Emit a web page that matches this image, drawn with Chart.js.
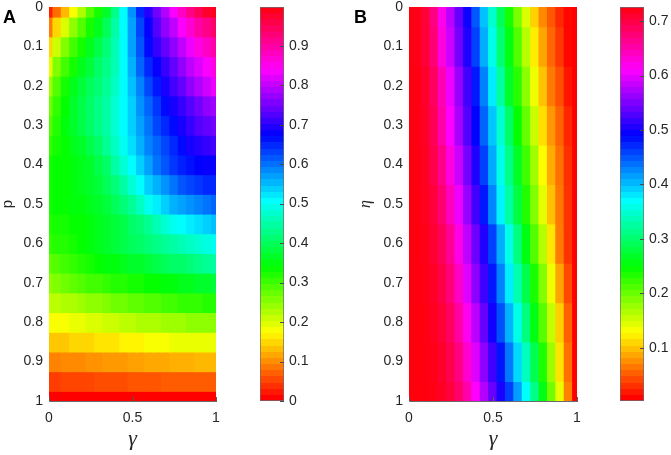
<!DOCTYPE html>
<html>
<head>
<meta charset="utf-8">
<script src="https://cdn.jsdelivr.net/npm/chart.js@4.4.1/dist/chart.umd.min.js"></script>
<style>
  html, body { margin: 0; padding: 0; background: #fff; }
  #wrap { position: relative; width: 671px; height: 455px; overflow: hidden; }
  .box { position: absolute; top: 0; height: 455px; }
  .tag { position: absolute; font: bold 18px "Liberation Sans", Arial, sans-serif; line-height: 18px; color: #000; }
</style>
</head>
<body>
<div id="wrap">
  <div class="box" style="left:0;width:230px"><canvas id="heatA" width="230" height="455"></canvas></div>
  <div class="box" style="left:240px;width:90px"><canvas id="barA" width="90" height="455"></canvas></div>
  <div class="box" style="left:350px;width:240px"><canvas id="heatB" width="240" height="455"></canvas></div>
  <div class="box" style="left:590px;width:81px"><canvas id="barB" width="81" height="455"></canvas></div>
  <div class="tag" style="left:3px;top:8px">A</div>
  <div class="tag" style="left:354px;top:8px">B</div>
</div>
<script>
// panel A: grid (columns = gamma, rows = p)
const gammaA = [0, 0.05, 0.1, 0.15, 0.2, 0.25, 0.3, 0.35, 0.4, 0.45, 0.5, 0.55, 0.6, 0.65, 0.7, 0.75, 0.8, 0.85, 0.9, 0.95, 1];
const pA = [0, 0.05, 0.1, 0.15, 0.2, 0.25, 0.3, 0.35, 0.4, 0.45, 0.5, 0.55, 0.6, 0.65, 0.7, 0.75, 0.8, 0.85, 0.9, 0.95, 1];
const zA = [
  [0.02, 0.07, 0.12, 0.17, 0.22, 0.28, 0.32, 0.36, 0.42, 0.50, 0.57, 0.64, 0.69, 0.74, 0.78, 0.83, 0.87, 0.91, 0.94, 0.97, 0.98],
  [0.08, 0.14, 0.19, 0.24, 0.28, 0.32, 0.35, 0.39, 0.44, 0.50, 0.56, 0.62, 0.67, 0.72, 0.76, 0.79, 0.83, 0.86, 0.89, 0.91, 0.93],
  [0.14, 0.20, 0.25, 0.29, 0.32, 0.35, 0.38, 0.41, 0.45, 0.50, 0.56, 0.61, 0.66, 0.70, 0.73, 0.76, 0.79, 0.82, 0.85, 0.87, 0.89],
  [0.18, 0.25, 0.29, 0.32, 0.35, 0.37, 0.40, 0.42, 0.45, 0.50, 0.55, 0.60, 0.64, 0.67, 0.70, 0.73, 0.76, 0.79, 0.81, 0.83, 0.85],
  [0.23, 0.28, 0.32, 0.35, 0.37, 0.39, 0.41, 0.43, 0.46, 0.50, 0.54, 0.58, 0.62, 0.65, 0.68, 0.71, 0.73, 0.76, 0.78, 0.80, 0.82],
  [0.26, 0.30, 0.33, 0.36, 0.38, 0.40, 0.42, 0.44, 0.47, 0.50, 0.53, 0.57, 0.60, 0.63, 0.66, 0.68, 0.70, 0.72, 0.74, 0.76, 0.77],
  [0.28, 0.31, 0.34, 0.36, 0.38, 0.40, 0.42, 0.44, 0.47, 0.50, 0.53, 0.56, 0.59, 0.62, 0.64, 0.66, 0.68, 0.70, 0.72, 0.73, 0.74],
  [0.30, 0.32, 0.33, 0.35, 0.36, 0.38, 0.40, 0.43, 0.46, 0.49, 0.52, 0.55, 0.58, 0.60, 0.62, 0.64, 0.66, 0.68, 0.69, 0.70, 0.71],
  [0.32, 0.33, 0.33, 0.34, 0.35, 0.36, 0.38, 0.40, 0.44, 0.47, 0.50, 0.53, 0.56, 0.59, 0.61, 0.63, 0.645, 0.655, 0.665, 0.67, 0.67],
  [0.32, 0.33, 0.33, 0.34, 0.35, 0.36, 0.37, 0.39, 0.41, 0.44, 0.47, 0.50, 0.53, 0.55, 0.57, 0.59, 0.61, 0.62, 0.63, 0.64, 0.64],
  [0.32, 0.33, 0.33, 0.34, 0.34, 0.35, 0.36, 0.37, 0.39, 0.41, 0.43, 0.46, 0.49, 0.51, 0.53, 0.55, 0.56, 0.57, 0.58, 0.59, 0.60],
  [0.31, 0.32, 0.32, 0.33, 0.33, 0.34, 0.35, 0.36, 0.37, 0.38, 0.40, 0.41, 0.43, 0.45, 0.47, 0.49, 0.50, 0.51, 0.52, 0.53, 0.54],
  [0.30, 0.31, 0.31, 0.32, 0.33, 0.34, 0.35, 0.36, 0.37, 0.38, 0.39, 0.40, 0.41, 0.42, 0.43, 0.44, 0.45, 0.46, 0.47, 0.48, 0.49],
  [0.27, 0.28, 0.29, 0.30, 0.31, 0.32, 0.33, 0.34, 0.34, 0.35, 0.36, 0.36, 0.37, 0.38, 0.39, 0.40, 0.40, 0.41, 0.42, 0.43, 0.44],
  [0.24, 0.25, 0.26, 0.27, 0.28, 0.29, 0.29, 0.30, 0.31, 0.31, 0.32, 0.32, 0.33, 0.33, 0.34, 0.34, 0.35, 0.35, 0.36, 0.36, 0.37],
  [0.21, 0.21, 0.22, 0.22, 0.23, 0.24, 0.24, 0.25, 0.26, 0.26, 0.27, 0.27, 0.28, 0.28, 0.29, 0.29, 0.30, 0.30, 0.30, 0.31, 0.31],
  [0.17, 0.17, 0.17, 0.18, 0.18, 0.19, 0.19, 0.20, 0.20, 0.21, 0.21, 0.22, 0.22, 0.22, 0.23, 0.23, 0.23, 0.24, 0.24, 0.24, 0.24],
  [0.13, 0.13, 0.13, 0.14, 0.14, 0.14, 0.15, 0.15, 0.15, 0.16, 0.16, 0.16, 0.17, 0.17, 0.17, 0.18, 0.18, 0.18, 0.18, 0.18, 0.18],
  [0.085, 0.085, 0.09, 0.09, 0.09, 0.095, 0.095, 0.10, 0.10, 0.10, 0.105, 0.105, 0.11, 0.11, 0.11, 0.115, 0.115, 0.115, 0.12, 0.12, 0.12],
  [0.04, 0.04, 0.045, 0.045, 0.045, 0.045, 0.05, 0.05, 0.05, 0.05, 0.055, 0.055, 0.055, 0.055, 0.06, 0.06, 0.06, 0.06, 0.06, 0.06, 0.06],
  [0, 0, 0, 0, 0, 0, 0, 0, 0, 0, 0, 0, 0, 0, 0, 0, 0, 0, 0, 0, 0]
];

// panel B: columns = gamma, rows = eta
const gammaB = [0, 0.05, 0.1, 0.15, 0.2, 0.25, 0.3, 0.35, 0.4, 0.45, 0.5, 0.55, 0.6, 0.65, 0.7, 0.75, 0.8, 0.85, 0.9, 0.95, 1];
const etaB = [0, 0.1, 0.2, 0.3, 0.4, 0.5, 0.6, 0.7, 0.8, 0.9, 1];
const zB = [
  [0.72, 0.715, 0.70, 0.665, 0.615, 0.573, 0.533, 0.492, 0.444, 0.393, 0.341, 0.286, 0.233, 0.186, 0.14, 0.101, 0.067, 0.044, 0.021, 0.005, 0],
  [0.72, 0.715, 0.70, 0.67, 0.62, 0.581, 0.54, 0.50, 0.454, 0.403, 0.353, 0.298, 0.252, 0.205, 0.158, 0.114, 0.08, 0.051, 0.028, 0.005, 0],
  [0.72, 0.717, 0.705, 0.68, 0.64, 0.597, 0.557, 0.516, 0.474, 0.423, 0.373, 0.318, 0.263, 0.224, 0.177, 0.13, 0.094, 0.06, 0.04, 0.012, 0],
  [0.72, 0.717, 0.707, 0.685, 0.645, 0.605, 0.565, 0.524, 0.484, 0.437, 0.391, 0.343, 0.292, 0.242, 0.196, 0.149, 0.107, 0.074, 0.049, 0.02, 0],
  [0.72, 0.718, 0.71, 0.69, 0.66, 0.62, 0.581, 0.541, 0.50, 0.454, 0.404, 0.354, 0.307, 0.261, 0.214, 0.168, 0.121, 0.083, 0.055, 0.025, 0],
  [0.72, 0.718, 0.712, 0.697, 0.672, 0.635, 0.597, 0.557, 0.516, 0.474, 0.421, 0.369, 0.321, 0.274, 0.228, 0.182, 0.135, 0.093, 0.058, 0.026, 0],
  [0.72, 0.719, 0.714, 0.703, 0.684, 0.655, 0.617, 0.575, 0.537, 0.50, 0.454, 0.403, 0.353, 0.303, 0.252, 0.205, 0.158, 0.111, 0.06, 0.026, 0],
  [0.72, 0.719, 0.716, 0.708, 0.692, 0.668, 0.632, 0.59, 0.552, 0.514, 0.474, 0.423, 0.373, 0.326, 0.28, 0.232, 0.182, 0.131, 0.08, 0.036, 0],
  [0.72, 0.72, 0.717, 0.711, 0.70, 0.68, 0.65, 0.612, 0.573, 0.533, 0.492, 0.447, 0.40, 0.353, 0.303, 0.252, 0.202, 0.151, 0.10, 0.048, 0],
  [0.72, 0.72, 0.718, 0.714, 0.705, 0.69, 0.665, 0.628, 0.59, 0.552, 0.514, 0.475, 0.428, 0.382, 0.333, 0.282, 0.23, 0.17, 0.11, 0.055, 0],
  [0.72, 0.72, 0.719, 0.716, 0.709, 0.697, 0.677, 0.645, 0.605, 0.57, 0.534, 0.498, 0.456, 0.41, 0.363, 0.308, 0.253, 0.19, 0.133, 0.063, 0]
];

// axes and colour limits
const xTicks = [0, 0.5, 1];
const yTicks = [0, 0.1, 0.2, 0.3, 0.4, 0.5, 0.6, 0.7, 0.8, 0.9, 1];
const cbTicksA = [0, 0.1, 0.2, 0.3, 0.4, 0.5, 0.6, 0.7, 0.8, 0.9];
const cbTicksB = [0.1, 0.2, 0.3, 0.4, 0.5, 0.6, 0.7];
const climA = [0, 0.998];
const climB = [0.002, 0.726];

const sans = '"Liberation Sans", Arial, sans-serif';
const serif = '"Liberation Serif", "Times New Roman", serif';
const ink = '#262626';
const tickFont = { family: sans, size: 14 };
const fmt = v => String(Math.round(v * 10) / 10);

// hsv colormap, red -> yellow -> green -> cyan -> blue -> magenta -> red
function hueColor(v, lim) {
  let t = (v - lim[0]) / (lim[1] - lim[0]);
  t = Math.min(Math.max(t, 0), 0.999);
  return 'hsl(' + (t * 360).toFixed(1) + ',100%,50%)';
}

function heatDatasets(cols, rows, z, lim) {
  return rows.map((r, i) => {
    const top = i === 0 ? r : (rows[i - 1] + r) / 2;
    const bot = i === rows.length - 1 ? r : (r + rows[i + 1]) / 2;
    return {
      data: cols.map(g => ({ x: g, y: [top, bot] })),
      backgroundColor: z[i].map(v => hueColor(v, lim)),
      borderWidth: 0,
      inflateAmount: 0.7,
      grouped: false,
      barPercentage: 1,
      categoryPercentage: 1,
      clip: 0
    };
  });
}

// small inward tick marks on the bottom edge
const bottomTicks = {
  id: 'bottomTicks',
  afterDraw(chart) {
    const { ctx, chartArea: a, scales } = chart;
    ctx.save();
    ctx.strokeStyle = '#5a5a5a';
    ctx.lineWidth = 1;
    ctx.beginPath();
    scales.x.ticks.forEach(t => {
      const x = Math.round(scales.x.getPixelForValue(t.value)) + 0.5;
      ctx.moveTo(x, a.bottom);
      ctx.lineTo(x, a.bottom - 4);
    });
    ctx.stroke();
    ctx.restore();
  }
};

// tick marks on the right side of a colorbar, pointing in
const barTicks = {
  id: 'barTicks',
  afterDraw(chart) {
    const { ctx, chartArea: a, scales } = chart;
    ctx.save();
    ctx.strokeStyle = '#4a4a4a';
    ctx.lineWidth = 1;
    ctx.beginPath();
    scales.y.ticks.forEach(t => {
      const y = Math.round(scales.y.getPixelForValue(t.value)) + 0.5;
      ctx.moveTo(a.right, y);
      ctx.lineTo(a.right - 4, y);
    });
    ctx.stroke();
    ctx.restore();
  }
};

function heatChart(id, cols, rows, z, lim, yTitle, yAxisW, titlePad, rightPad) {
  return new Chart(document.getElementById(id), {
    type: 'bar',
    data: { datasets: heatDatasets(cols, rows, z, lim) },
    options: {
      responsive: false,
      animation: false,
      events: [],
      layout: { padding: { top: 7, right: rightPad, bottom: 0, left: 0 } },
      plugins: { legend: { display: false }, tooltip: { enabled: false } },
      scales: {
        x: {
          type: 'linear', min: 0, max: 1, offset: false,
          grid: { display: false, drawTicks: false, offset: false },
          border: { display: true, color: '#6a6a6a', width: 1 },
          ticks: { font: tickFont, color: ink, padding: 9, maxRotation: 0, callback: fmt },
          afterBuildTicks: s => { s.ticks = xTicks.map(v => ({ value: v })); },
          afterFit: s => { s.height = 54; s.paddingLeft = 0; s.paddingRight = 0; },
          title: { display: true, text: 'γ', color: ink, font: { family: serif, size: 22, style: 'italic', lineHeight: 1 }, padding: { top: 0, bottom: 5 } }
        },
        y: {
          type: 'linear', min: 0, max: 1, reverse: true,
          grid: { display: false, drawTicks: false },
          border: { display: true, color: '#9a9a9a', width: 1 },
          ticks: { font: tickFont, color: ink, padding: 6, callback: fmt },
          afterBuildTicks: s => { s.ticks = yTicks.map(v => ({ value: v })); },
          afterFit: s => { s.width = yAxisW; s.paddingTop = 0; s.paddingBottom = 0; },
          title: { display: true, text: yTitle.text, color: ink, font: yTitle.font, padding: { top: titlePad, bottom: 0 } }
        }
      }
    },
    plugins: [bottomTicks]
  });
}

function barChart(id, lim, ticks, leftPad, axisW) {
  return new Chart(document.getElementById(id), {
    type: 'bar',
    data: {
      labels: [''],
      datasets: [{
        data: [[lim[0], lim[1]]],
        backgroundColor: ctx => {
          const ch = ctx.chart;
          if (!ch.chartArea) return '#f00';
          const ys = ch.scales.y;
          const g = ch.ctx.createLinearGradient(0, ys.getPixelForValue(lim[0]), 0, ys.getPixelForValue(lim[1]));
          const n = 64;
          for (let k = 0; k < n; k++) {
            const c = 'hsl(' + (k / n * 360).toFixed(1) + ',100%,50%)';
            g.addColorStop(k / n, c);
            g.addColorStop((k + 1) / n, c);
          }
          return g;
        },
        borderColor: '#6e6e6e',
        borderWidth: 1,
        borderSkipped: false,
        barPercentage: 1,
        categoryPercentage: 1
      }]
    },
    options: {
      responsive: false,
      animation: false,
      events: [],
      layout: { padding: { top: 7, right: 0, bottom: 54, left: leftPad } },
      plugins: { legend: { display: false }, tooltip: { enabled: false } },
      scales: {
        x: { display: false },
        y: {
          position: 'right', min: lim[0], max: lim[1],
          grid: { display: false, drawTicks: false },
          border: { display: false },
          ticks: { font: tickFont, color: ink, padding: 5, callback: fmt },
          afterBuildTicks: s => { s.ticks = ticks.map(v => ({ value: v })); },
          afterFit: s => { s.width = axisW; s.paddingTop = 0; s.paddingBottom = 0; }
        }
      }
    },
    plugins: [barTicks]
  });
}

heatChart('heatA', gammaA, pA, zA, climA,
  { text: 'p', font: { family: sans, size: 15, lineHeight: 1 } }, 49, 0, 14);
barChart('barA', climA, cbTicksA, 20, 46);
heatChart('heatB', gammaB, etaB, zB, climB,
  { text: 'η', font: { family: serif, size: 16, style: 'italic', lineHeight: 1 } }, 59, 8, 13);
barChart('barB', climB, cbTicksB, 30, 27);
</script>
</body>
</html>
